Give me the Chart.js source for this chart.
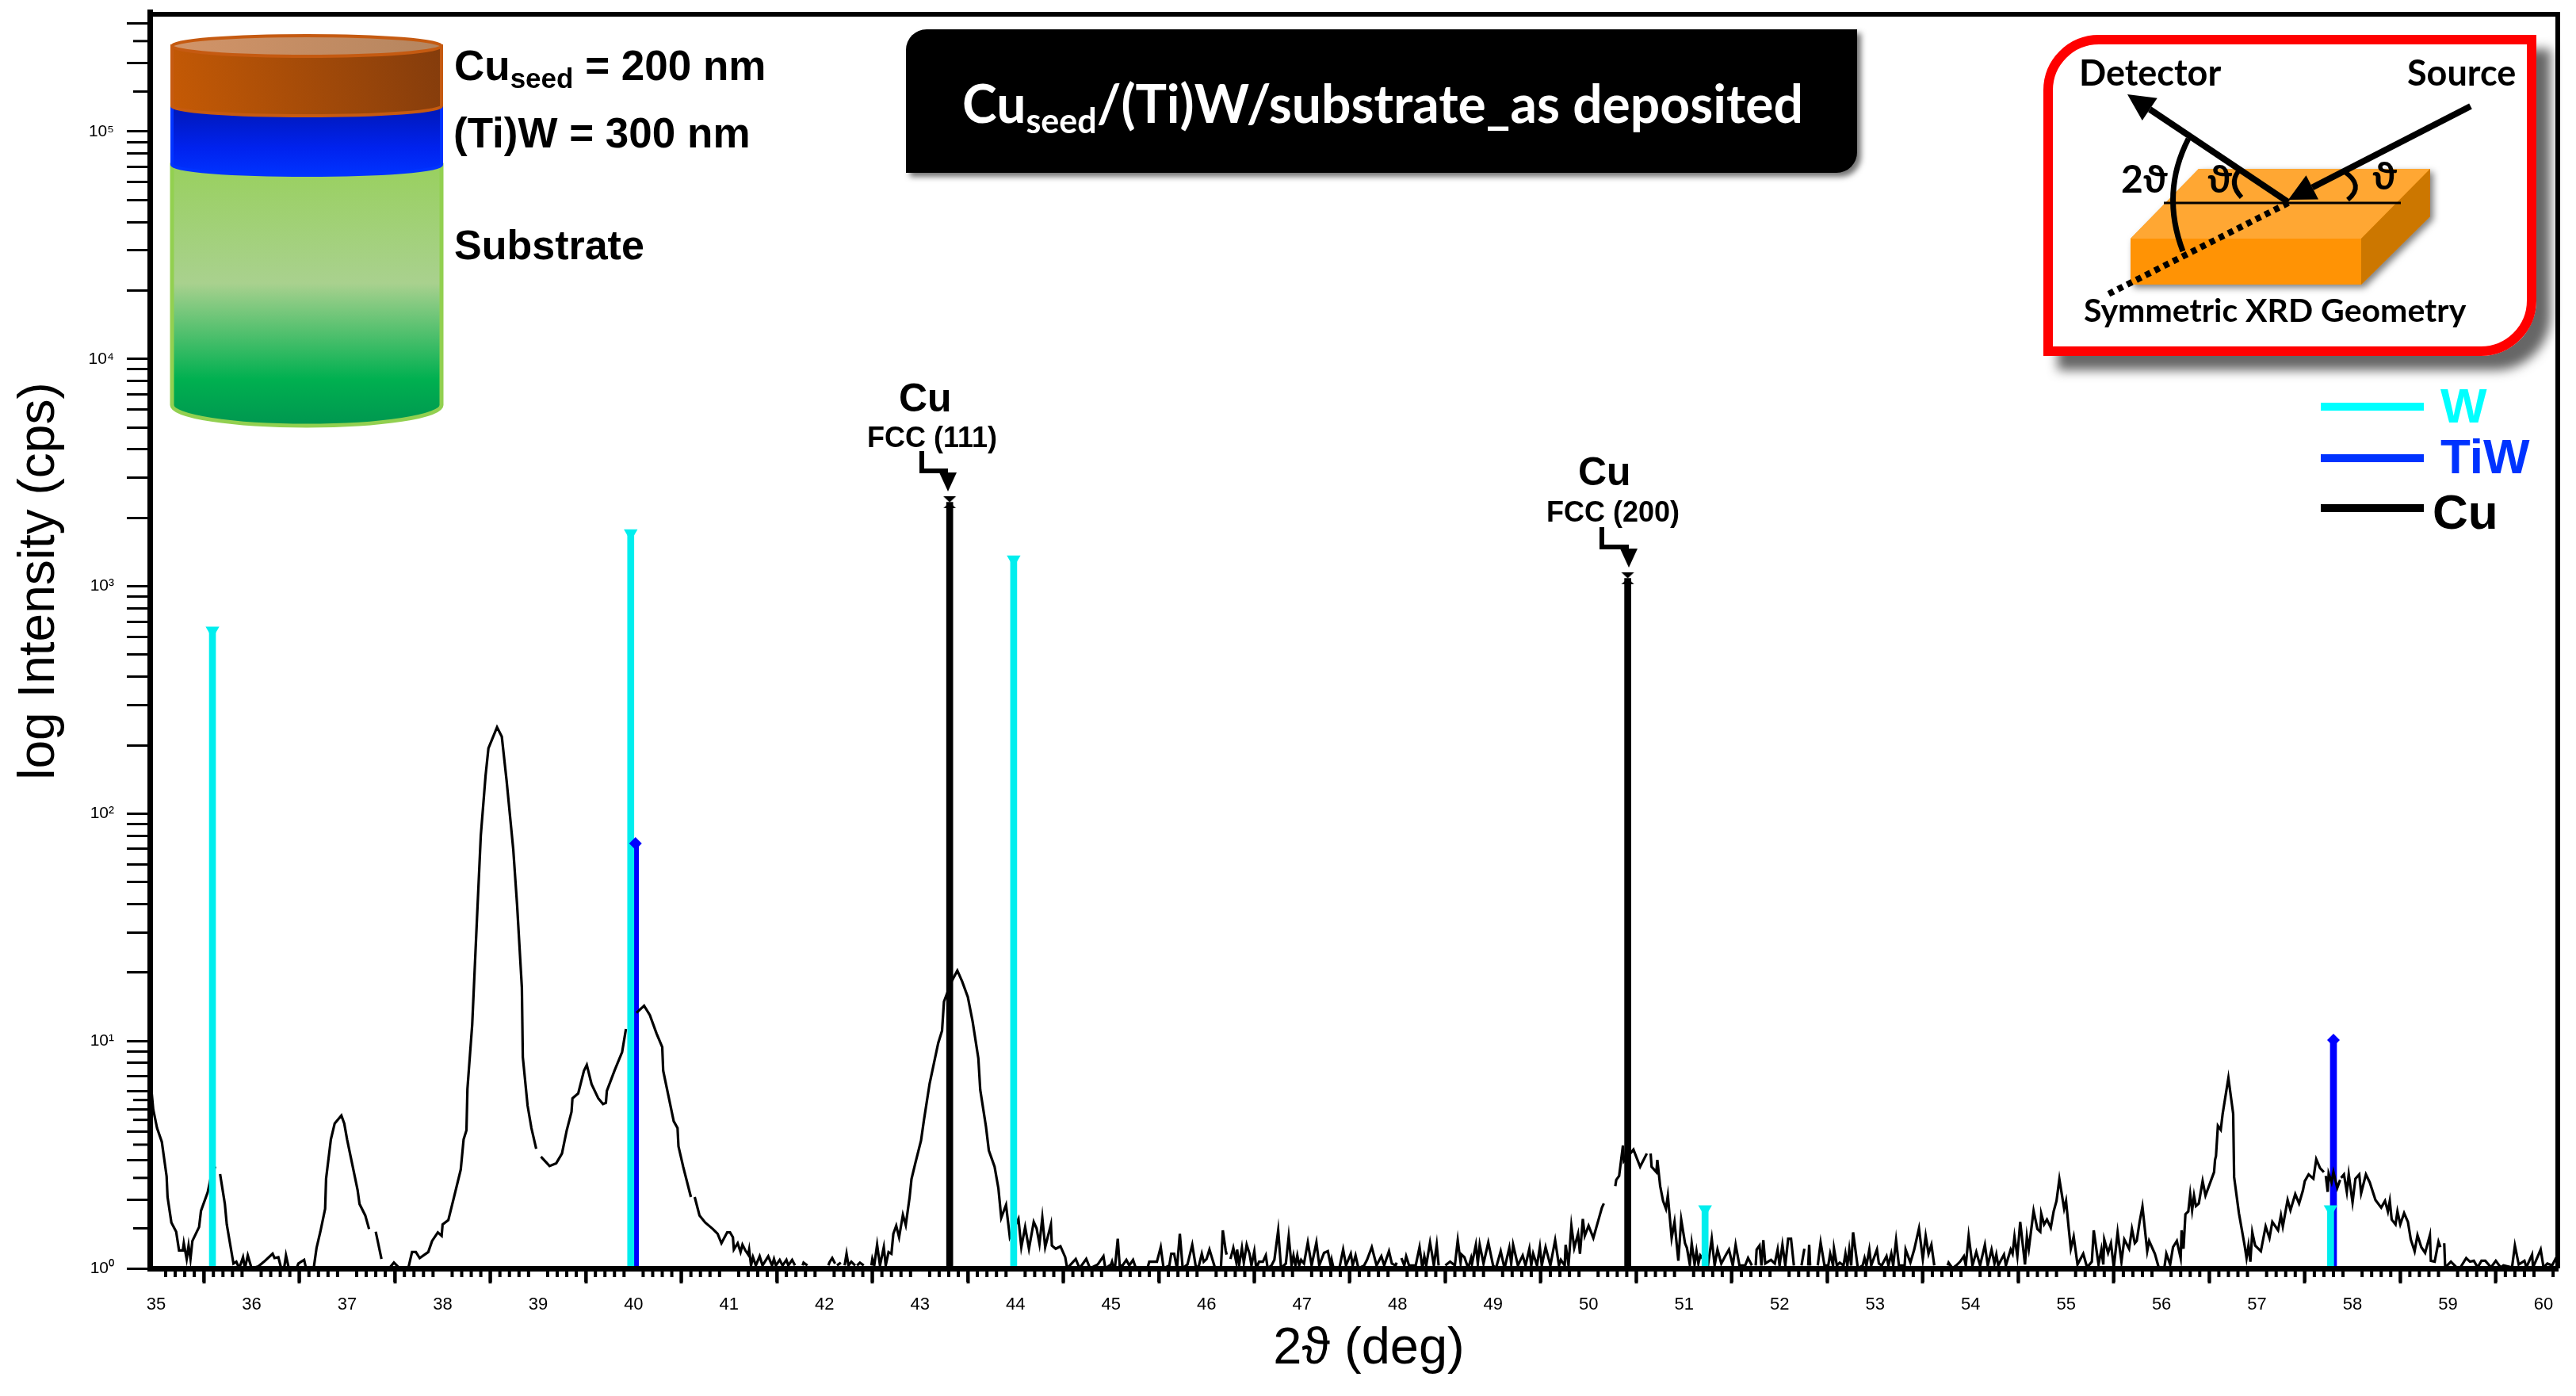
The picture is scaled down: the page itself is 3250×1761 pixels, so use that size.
<!DOCTYPE html>
<html>
<head>
<meta charset="utf-8">
<title>Cu seed XRD</title>
<script src="https://cdn.jsdelivr.net/npm/chart.js@4"></script>
<style>
  html, body { margin: 0; padding: 0; background: #fff; }
  canvas { display: block; }
</style>
</head>
<body>
<canvas id="myChart" width="3250" height="1761"></canvas>
<script>
// scan, [2theta, cps]; null = the trace breaks there
const scan35to41 = [[34.95,6.15],[34.97,5],[35.01,4.14],[35.06,3.6],[35.11,2.54],[35.12,2.06],[35.16,1.59],[35.21,1.45],[35.24,1.2],[35.28,1.2],[35.29,1.29],[35.32,1.1],[35.34,1.26],[35.36,1.1],[35.38,1.32],[35.45,1.52],[35.47,1.79],[35.54,2.16],[35.57,2.48],[35.62,2.81],[35.64,null],[35.67,2.6],[35.72,1.92],[35.74,1.56],[35.81,1.05],[35.84,1.07],[35.87,1],[35.91,1.12],[35.93,1],[35.96,1.14],[36,1],[36.07,1.02],[36.13,1.07],[36.22,1.16],[36.24,1.11],[36.28,1.12],[36.31,1],[36.33,null],[36.34,1],[36.36,1.14],[36.39,1],[36.4,null],[36.47,1],[36.49,1.05],[36.55,1.09],[36.57,1],[36.6,null],[36.65,1],[36.68,1.23],[36.72,1.45],[36.77,1.83],[36.78,2.48],[36.83,3.69],[36.87,4.34],[36.94,4.7],[36.97,4.34],[37,3.69],[37.04,3.06],[37.11,2.21],[37.13,1.92],[37.19,1.71],[37.23,1.49],[37.26,null],[37.3,1.45],[37.36,1.1],[37.38,null],[37.44,1],[37.49,1.06],[37.55,1],[37.64,1],[37.68,1.18],[37.72,1.18],[37.76,1.11],[37.85,1.18],[37.89,1.32],[37.95,1.44],[37.99,1.39],[38,1.56],[38.06,1.63],[38.12,2.06],[38.19,2.72],[38.22,3.69],[38.25,4.05],[38.26,6.15],[38.31,11.8],[38.36,34.5],[38.4,80],[38.45,147],[38.48,194],[38.57,240],[38.62,218],[38.67,140],[38.74,69.5],[38.78,39.7],[38.83,17.2],[38.84,8.5],[38.89,5.2],[38.93,4.14],[38.98,3.36],[39,null],[39.03,3.1],[39.12,2.82],[39.19,2.9],[39.25,3.2],[39.3,4.05],[39.35,4.88],[39.36,5.6],[39.42,5.88],[39.48,7.4],[39.51,7.85],[39.56,6.46],[39.63,5.6],[39.68,5.28],[39.71,5.35],[39.72,6.03],[39.8,7.4],[39.88,8.95],[39.92,11.3],[39.95,null],[40.03,13.3],[40.11,14.3],[40.17,13],[40.24,10.8],[40.3,9.4],[40.31,7.4],[40.37,5.6],[40.42,4.44],[40.46,4.14],[40.47,3.44],[40.52,2.79],[40.6,2.06],[40.62,null],[40.64,2.06],[40.69,1.71],[40.75,1.59],[40.83,1.49],[40.88,1.42],[40.92,1.29],[40.98,1.44]];
const scan41to45 = [[41.01,1.44],[41.04,1.37],[41.05,1.21],[41.09,1.29],[41.12,1.18],[41.14,1.27],[41.17,1.2],[41.2,1.15],[41.21,1.21],[41.23,1.03],[41.25,1.12],[41.28,1.03],[41.32,1.13],[41.35,1.03],[41.41,1.13],[41.45,1.03],[41.47,1.1],[41.49,1.03],[41.53,1.09],[41.56,1.03],[41.6,1.09],[41.62,1.03],[41.66,1.09],[41.69,1.03],[41.72,null],[41.77,1.03],[41.78,1.06],[41.82,1.03],[41.85,null],[42.04,1.03],[42.05,1.06],[42.08,1.11],[42.11,1.05],[42.12,null],[42.13,1.03],[42.17,1.06],[42.18,null],[42.21,1.03],[42.23,1.16],[42.25,1.03],[42.28,1.07],[42.32,1.03],[42.33,null],[42.34,1.03],[42.37,1.06],[42.41,1.03],[42.43,null],[42.49,1.03],[42.5,1.1],[42.52,1.03],[42.55,1.27],[42.58,1.03],[42.62,1.24],[42.64,1.03],[42.67,1.18],[42.7,1.16],[42.72,1.42],[42.75,1.54],[42.78,1.37],[42.82,1.72],[42.85,1.55],[42.89,2.05],[42.91,2.47],[42.95,2.9],[43.01,3.65],[43.04,4.48],[43.07,5.4],[43.1,6.5],[43.14,7.8],[43.19,9.8],[43.23,11.1],[43.25,14.9],[43.33,18.3],[43.39,20.4],[43.44,18.3],[43.5,15.6],[43.55,12.2],[43.61,8.4],[43.63,6.1],[43.69,4.2],[43.72,3.3],[43.78,2.8],[43.82,2.25],[43.85,1.67],[43.9,1.9],[43.94,1.37],[44.03,1.65],[44.06,1.24],[44.1,1.52],[44.14,1.22],[44.19,1.6],[44.22,1.5],[44.25,1.28],[44.28,1.67],[44.31,1.24],[44.37,1.56],[44.38,1.26],[44.42,1.22],[44.47,1.25],[44.52,1.12],[44.54,1],[44.63,1.1],[44.67,1],[44.74,1.1],[44.78,1],[44.86,1.04],[44.92,1.13],[44.94,1],[45,1.04]];
const scan45to48 = [[45.01,1.07],[45.02,1.03],[45.04,1],[45.07,1.35],[45.09,1.03],[45.12,1.03],[45.16,1.09],[45.19,1.03],[45.23,1.09],[45.26,1],[45.28,null],[45.38,1],[45.4,1.07],[45.44,1.07],[45.48,1.07],[45.52,1.24],[45.55,1],[45.61,1.03],[45.63,1.16],[45.66,1.16],[45.69,1],[45.72,1.42],[45.75,1],[45.8,1.04],[45.85,1.27],[45.89,1],[45.92,1.03],[45.95,1.16],[45.97,1.07],[46,1.1],[46.03,1.21],[46.09,1],[46.15,1],[46.17,1.47],[46.2,1.2],[46.21,1.15],[46.225,null],[46.25,1.1],[46.28,1.23],[46.31,1.07],[46.32,1.21],[46.34,1.03],[46.37,1.23],[46.39,1.06],[46.42,1.27],[46.45,1.16],[46.47,1.03],[46.5,1.19],[46.52,1],[46.55,1.07],[46.59,1.07],[46.62,1.14],[46.64,1],[46.68,1.03],[46.71,1.09],[46.75,1.47],[46.78,1],[46.83,1.05],[46.86,1.38],[46.89,1.03],[46.91,1.14],[46.93,1.03],[46.95,1.14],[46.97,1.03],[46.99,1.09],[47.02,1.05],[47.06,1.3],[47.1,1.03],[47.15,1.3],[47.18,1.03],[47.23,1.17],[47.27,1.19],[47.3,1.03],[47.31,1.09],[47.33,1],[47.39,1],[47.43,1.21],[47.46,1.03],[47.51,1.16],[47.53,1.03],[47.56,1.14],[47.59,1],[47.65,1.03],[47.68,1.09],[47.73,1.24],[47.78,1.03],[47.83,1.13],[47.86,1.03],[47.91,1.19],[47.94,1.05],[47.98,1.03],[47.99,1.06],[48,null]];
const scan48to51 = [[48.04,1.11],[48.07,1.03],[48.09,1.13],[48.12,1.03],[48.19,1.03],[48.23,1.24],[48.26,1],[48.28,1.13],[48.3,1.03],[48.34,1.3],[48.36,1.16],[48.38,1.03],[48.41,1.27],[48.43,1.03],[48.45,null],[48.5,1.03],[48.55,1.07],[48.6,1.03],[48.63,1.33],[48.66,1.06],[48.67,1.15],[48.7,1.12],[48.74,1],[48.77,1.11],[48.78,1.05],[48.82,1.27],[48.84,1.05],[48.86,1.27],[48.9,1.05],[48.95,1.3],[49,1.03],[49.03,1],[49.08,1.19],[49.12,1],[49.17,1.23],[49.19,1.05],[49.21,1.27],[49.26,1.03],[49.31,1.14],[49.34,1.03],[49.38,1.22],[49.4,1.03],[49.42,1.16],[49.46,1.03],[49.49,1.24],[49.51,1.03],[49.55,1.24],[49.6,1.03],[49.65,1.33],[49.69,1.03],[49.71,1.09],[49.75,1.03],[49.76,1.27],[49.79,1.03],[49.82,1.54],[49.85,1.23],[49.89,1.42],[49.91,1.16],[49.94,1.65],[49.96,1.39],[50,1.54],[50.05,1.36],[50.09,1.56],[50.14,1.85],[50.16,1.93],[50.18,null],[50.22,2.2],[50.25,null],[50.28,2.3],[50.29,2.45],[50.32,2.55],[50.36,3.47],[50.37,2.96],[50.47,3.33],[50.54,2.8],[50.61,3.2],[50.63,null],[50.65,3.2],[50.66,2.8],[50.71,2.65],[50.72,3],[50.75,2.3],[50.78,1.98],[50.81,1.83],[50.83,2.09],[50.87,1.36],[50.9,1.6],[50.94,1.08],[50.97,1.64],[51.01,1.29],[51.03,1.23],[51.06,1.04],[51.08,1.29],[51.11,1.04],[51.13,1.19],[51.15,1.05],[51.17,1.14]];
const scan51to54 = [[51.25,1.03],[51.29,1.35],[51.32,1.03],[51.35,1.21],[51.39,1.05],[51.43,1.13],[51.47,1.21],[51.51,1.03],[51.54,1.27],[51.58,1.03],[51.64,1.03],[51.67,1.11],[51.71,1.03],[51.72,null],[51.75,1.03],[51.76,1.21],[51.79,1.26],[51.81,1.03],[51.83,1.33],[51.85,1.05],[51.91,1.09],[51.95,1.05],[51.98,1.21],[52,1.03],[52.03,1.27],[52.06,1.03],[52.09,1.35],[52.12,1.35],[52.15,1.03],[52.17,null],[52.23,1.03],[52.26,1.22],[52.27,null],[52.3,1.03],[52.31,1.27],[52.32,1.03],[52.33,null],[52.4,1.03],[52.43,1.3],[52.47,1.03],[52.51,1.03],[52.53,1.16],[52.56,1.03],[52.57,1.22],[52.6,1.03],[52.63,1.06],[52.67,1.03],[52.69,1.16],[52.71,1.03],[52.73,1.21],[52.75,1.03],[52.77,1.44],[52.82,1],[52.87,1.03],[52.89,1.11],[52.91,1.03],[52.94,1.21],[52.96,1.03],[53.02,1.21],[53.04,1.05],[53.07,1.03],[53.12,1.13],[53.14,1.03],[53.17,1.16],[53.19,1.03],[53.22,1.33],[53.25,1.03],[53.31,1.03],[53.32,1.21],[53.37,1.06],[53.41,1.21],[53.46,1.5],[53.5,1.1],[53.53,1.39],[53.56,1.16],[53.59,1.27],[53.62,1.03],[53.64,null],[53.76,1.03],[53.77,1.06],[53.81,1],[53.85,1.03],[53.89,1.07],[53.93,1.13],[53.95,1.03],[53.98,1.39]];
const scan54to57 = [[54.02,1.03],[54.06,1.18],[54.1,1.03],[54.15,1.27],[54.18,1.03],[54.22,1.21],[54.25,1.05],[54.27,1.15],[54.29,1.03],[54.35,1.15],[54.37,1.03],[54.42,1.21],[54.44,1.16],[54.46,1.38],[54.49,1.13],[54.52,1.6],[54.57,1.04],[54.59,1.38],[54.61,1.22],[54.66,1.79],[54.7,1.49],[54.73,1.45],[54.74,1.74],[54.77,1.56],[54.8,1.64],[54.84,1.51],[54.87,1.78],[54.9,1.98],[54.93,2.47],[54.98,1.83],[55,1.98],[55.03,1.47],[55.05,1.22],[55.08,1.38],[55.12,1.04],[55.18,1.16],[55.22,1.01],[55.27,1.07],[55.29,1.47],[55.34,1.04],[55.37,1.21],[55.39,1.04],[55.4,1.34],[55.44,1.17],[55.47,1.29],[55.5,1.01],[55.54,1.44],[55.58,1.07],[55.61,1.34],[55.66,1.22],[55.69,1.49],[55.72,1.29],[55.74,1.32],[55.77,1.6],[55.8,1.87],[55.85,1.19],[55.87,1.32],[55.91,1.21],[55.93,1.16],[55.97,1.01],[56.03,1.01],[56.05,1.16],[56.09,1.04],[56.12,1.24],[56.16,1.32],[56.2,1.11],[56.21,1.47],[56.23,1.22],[56.25,1.73],[56.28,1.78],[56.3,2.12],[56.32,1.8],[56.34,2.09],[56.36,1.88],[56.39,1.93],[56.43,2.42],[56.46,2.09],[56.52,2.45],[56.55,2.65],[56.56,3],[56.57,3.12],[56.59,4.24],[56.62,4.07],[56.64,4.79],[56.7,6.88],[56.75,4.79],[56.76,2.52],[56.81,1.75],[56.87,1.26],[56.89,1.11],[56.91,1.26],[56.93,1.07],[56.95,1.44],[56.98,1.26]];
const scan57to60 = [[57.04,1.19],[57.09,1.53],[57.13,1.36],[57.16,1.6],[57.22,1.47],[57.25,1.71],[57.27,1.53],[57.32,2],[57.35,1.8],[57.4,2.12],[57.44,1.93],[57.48,2.2],[57.5,2.42],[57.54,2.59],[57.59,2.48],[57.62,3.02],[57.66,2.76],[57.7,2.65],[57.71,null],[57.72,2.55],[57.74,2.17],[57.75,2.61],[57.78,2.39],[57.8,2.65],[57.84,2.26],[57.87,2.45],[57.875,null],[57.88,2.5],[57.91,2.59],[57.94,2.17],[57.96,2.59],[58,1.95],[58.03,2.48],[58.07,2.59],[58.09,2.14],[58.14,2.59],[58.18,2.39],[58.24,2],[58.3,1.85],[58.34,1.98],[58.37,1.78],[58.39,1.98],[58.41,1.64],[58.45,1.56],[58.47,1.78],[58.5,1.56],[58.54,1.75],[58.58,1.6],[58.61,1.34],[58.65,1.19],[58.68,1.4],[58.72,1.24],[58.76,1.17],[58.81,1.4],[58.82,1.08],[58.86,1.07],[58.9,1.31],[58.92,1.24],[58.94,null],[58.96,1.29],[58.97,1.01],[59.03,1.07],[59.09,1.01],[59.13,1.01],[59.19,1.11],[59.23,1.07],[59.27,1.08],[59.31,1.01],[59.35,1.08],[59.39,1.08],[59.45,1.01],[59.5,1.08],[59.55,1.01],[59.58,1.03],[59.67,1.01],[59.7,1.26],[59.74,1.04],[59.8,1.08],[59.82,1.01],[59.88,1.15],[59.89,1.01],[59.97,1.21],[60,1.01],[60.04,1.05],[60.09,1.03],[60.13,1.11],[60.15,1.13]];

// reference peaks, position and height
const wDeg = [35.59, 39.97, 43.98, 51.22, 57.77];
const wCps = [638, 1710, 1313, 1.82, 1.82];
const tiwDeg = [40.02, 57.8];
const tiwCps = [74, 10.1];
const cuDeg = [43.31, 50.41];
const cuCps = [2340, 1084];

const xTicks = [35,36,37,38,39,40,41,42,43,44,45,46,47,48,49,50,51,52,53,54,55,56,57,58,59,60];
const yTicks = [1,2,3,4,5,6,7,8,9,10,20,30,40,50,60,70,80,90,100,200,300,400,500,600,700,800,900,1000,2000,3000,4000,5000,6000,7000,8000,9000,10000,20000,30000,40000,50000,60000,70000,80000,90000,100000,200000,300000];
const yShortTicks = [1.5,2.5,3.5,4.5,5.5,150000,250000];
const yLabels = {1:'10⁰',10:'10¹',100:'10²',1000:'10³',10000:'10⁴',100000:'10⁵'};

const xTitle = '2ϑ (deg)';
const yTitle = 'log Intensity (cps)';

function pairs(xs, ys) {
    return xs.map(function (x, i) { return {x: x, y: ys[i]}; });
}

function hourglass() {
    const c = document.createElement('canvas');
    c.width = 18; c.height = 15;
    const g = c.getContext('2d');
    g.fillStyle = '#000';
    g.beginPath();
    g.moveTo(1, 0); g.lineTo(17, 0); g.lineTo(1, 15); g.lineTo(17, 15);
    g.closePath();
    g.fill();
    return c;
}

const scan = [].concat(scan35to41, scan41to45, scan45to48, scan48to51, scan51to54, scan54to57, scan57to60)
    .map(function (p) { return {x: p[0], y: p[1]}; });

function text(ctx, str, x, y, font, color) {
    ctx.font = font;
    ctx.fillStyle = color || '#000';
    ctx.fillText(str, x, y);
}

function withSub(ctx, parts, x, y, font, subFont, subDrop, color) {
    // parts: normal, subscript, normal
    text(ctx, parts[0], x, y, font, color);
    x += ctx.measureText(parts[0]).width;
    text(ctx, parts[1], x, y + subDrop, subFont, color);
    x += ctx.measureText(parts[1]).width;
    text(ctx, parts[2], x, y, font, color);
}

function poly(ctx, pts, fill) {
    ctx.beginPath();
    pts.forEach(function (p, i) { i ? ctx.lineTo(p[0], p[1]) : ctx.moveTo(p[0], p[1]); });
    ctx.closePath();
    ctx.fillStyle = fill;
    ctx.fill();
}

function arrow(ctx, x0, y0, x1, y1, width, len, half) {
    const a = Math.atan2(y1 - y0, x1 - x0);
    const bx = x1 - Math.cos(a) * len, by = y1 - Math.sin(a) * len;
    ctx.strokeStyle = '#000';
    ctx.lineWidth = width;
    ctx.beginPath(); ctx.moveTo(x0, y0); ctx.lineTo(bx, by); ctx.stroke();
    poly(ctx, [[x1, y1], [bx - Math.sin(a) * half, by + Math.cos(a) * half], [bx + Math.sin(a) * half, by - Math.cos(a) * half]], '#000');
}

function drawCylinder(ctx) {
    const l = 217, r = 557, cx = 387, rx = 170;
    // substrate
    let g = ctx.createLinearGradient(0, 209, 0, 538);
    g.addColorStop(0, '#99d05f');
    g.addColorStop(0.45, '#a9d18e');
    g.addColorStop(0.82, '#00b050');
    g.addColorStop(1, '#009650');
    ctx.beginPath();
    ctx.moveTo(l, 208); ctx.lineTo(l, 511);
    ctx.ellipse(cx, 511, rx, 26, 0, Math.PI, 0, true);
    ctx.lineTo(r, 208);
    ctx.closePath();
    ctx.fillStyle = g; ctx.fill();
    ctx.strokeStyle = '#92d050'; ctx.lineWidth = 5; ctx.stroke();
    // (Ti)W
    g = ctx.createLinearGradient(0, 135, 0, 221);
    g.addColorStop(0, '#0018b8');
    g.addColorStop(0.6, '#0022ee');
    g.addColorStop(1, '#0033ff');
    ctx.beginPath();
    ctx.moveTo(l, 134); ctx.lineTo(l, 208);
    ctx.ellipse(cx, 208, rx, 13, 0, Math.PI, 0, true);
    ctx.lineTo(r, 134);
    ctx.closePath();
    ctx.fillStyle = g; ctx.fill();
    ctx.strokeStyle = '#0033ff'; ctx.lineWidth = 4; ctx.stroke();
    // Cu
    g = ctx.createLinearGradient(l, 140, r, 58);
    g.addColorStop(0, '#c55a05');
    g.addColorStop(1, '#843c0c');
    ctx.beginPath();
    ctx.moveTo(l, 58); ctx.lineTo(l, 134);
    ctx.ellipse(cx, 134, rx, 12, 0, Math.PI, 0, true);
    ctx.lineTo(r, 58);
    ctx.closePath();
    ctx.fillStyle = g; ctx.fill();
    ctx.strokeStyle = '#c55a11'; ctx.lineWidth = 4; ctx.stroke();
    g = ctx.createLinearGradient(l, 0, r, 0);
    g.addColorStop(0, '#d29468');
    g.addColorStop(1, '#b5855f');
    ctx.beginPath();
    ctx.ellipse(cx, 58, rx, 13, 0, 0, Math.PI * 2);
    ctx.fillStyle = g; ctx.fill();
    ctx.strokeStyle = '#c55a11'; ctx.lineWidth = 4; ctx.stroke();

    const bold = 'bold 53px "Liberation Sans"';
    withSub(ctx, ['Cu', 'seed', ' = 200 nm'], 573, 101, bold, 'bold 35px "Liberation Sans"', 10);
    text(ctx, '(Ti)W = 300 nm', 572, 186, bold);
    text(ctx, 'Substrate', 573, 327, 'bold 52px "Liberation Sans"');
}

function drawTitleBox(ctx) {
    ctx.save();
    ctx.shadowColor = 'rgba(0,0,0,0.55)';
    ctx.shadowBlur = 7;
    ctx.shadowOffsetX = 5;
    ctx.shadowOffsetY = 5;
    ctx.beginPath();
    ctx.roundRect(1143, 37, 1200, 181, [26, 0, 26, 0]);
    ctx.fillStyle = '#000';
    ctx.fill();
    ctx.restore();
    withSub(ctx, ['Cu', 'seed', '/(Ti)W/substrate_as deposited'], 1214, 155,
        'bold 66px Lato', 'bold 43px Lato', 13, '#fff');
}

function drawInset(ctx) {
    ctx.save();
    ctx.shadowColor = 'rgba(0,0,0,0.6)';
    ctx.shadowBlur = 14;
    ctx.shadowOffsetX = 18;
    ctx.shadowOffsetY = 18;
    ctx.beginPath();
    ctx.roundRect(2578, 44, 622, 405, [70, 0, 70, 0]);
    ctx.fillStyle = '#fff';
    ctx.fill();
    ctx.restore();
    ctx.beginPath();
    ctx.roundRect(2584, 50, 610, 393, [64, 0, 64, 0]);
    ctx.strokeStyle = '#ff0000';
    ctx.lineWidth = 12;
    ctx.stroke();

    // substrate block
    ctx.save();
    ctx.shadowColor = 'rgba(0,0,0,0.5)';
    ctx.shadowBlur = 8;
    ctx.shadowOffsetX = 4;
    ctx.shadowOffsetY = 4;
    poly(ctx, [[2688, 301], [2774, 213], [3066, 213], [3066, 273], [2979, 359], [2688, 359]], '#ff9305');
    ctx.restore();
    poly(ctx, [[2688, 301], [2774, 213], [3066, 213], [2979, 301]], '#ffa733');
    poly(ctx, [[2979, 301], [3066, 213], [3066, 273], [2979, 359]], '#cc7700');

    ctx.strokeStyle = '#000';
    ctx.lineWidth = 3;
    ctx.beginPath(); ctx.moveTo(2730, 256); ctx.lineTo(3029, 256); ctx.stroke();

    ctx.lineWidth = 8;
    ctx.setLineDash([7, 6]);
    ctx.beginPath(); ctx.moveTo(2887, 256); ctx.lineTo(2658, 372); ctx.stroke();
    ctx.setLineDash([]);

    arrow(ctx, 2887, 255, 2684, 119, 8, 34, 17);
    arrow(ctx, 3117, 134, 2887, 252, 8, 34, 17);

    ctx.lineWidth = 7;
    ctx.beginPath(); ctx.moveTo(2761, 175); ctx.quadraticCurveTo(2726, 243, 2754, 317); ctx.stroke();
    ctx.lineWidth = 6;
    ctx.beginPath(); ctx.moveTo(2824, 216); ctx.quadraticCurveTo(2812, 232, 2828, 249); ctx.stroke();
    ctx.beginPath(); ctx.moveTo(2957, 216); ctx.quadraticCurveTo(2984, 234, 2962, 252); ctx.stroke();

    const big = 'bold 45px Lato, "DejaVu Sans"';
    text(ctx, 'Detector', 2623, 108, big);
    text(ctx, 'Source', 3037, 108, big);
    text(ctx, '2ϑ', 2676, 243, 'bold 48px Lato, "DejaVu Sans"');
    text(ctx, 'ϑ', 2785, 243, 'bold 48px Lato, "DejaVu Sans"');
    text(ctx, 'ϑ', 2993, 239, 'bold 48px Lato, "DejaVu Sans"');
    text(ctx, 'Symmetric XRD Geometry', 2629, 406, 'bold 41px Lato');
}

function drawKey(ctx) {
    ctx.fillStyle = '#00ffff'; ctx.fillRect(2928, 508, 130, 10);
    ctx.fillStyle = '#0033ff'; ctx.fillRect(2928, 573, 130, 10);
    ctx.fillStyle = '#000000'; ctx.fillRect(2928, 636, 130, 10);
    const f = 'bold 62px "Liberation Sans"';
    text(ctx, 'W', 3079, 533, f, '#00ffff');
    text(ctx, 'TiW', 3079, 597, f, '#0033ff');
    text(ctx, 'Cu', 3069, 667, f, '#000');
}

function drawPeakNote(ctx, cuX, cuY, fccX, fccY, fcc, bendX, bendTop, tipX) {
    text(ctx, 'Cu', cuX, cuY, 'bold 50px "Liberation Sans"');
    text(ctx, fcc, fccX, fccY, 'bold 36px "Liberation Sans"');
    ctx.strokeStyle = '#000';
    ctx.lineWidth = 6;
    ctx.beginPath();
    ctx.moveTo(bendX, bendTop);
    ctx.lineTo(bendX, bendTop + 25);
    ctx.lineTo(tipX, bendTop + 25);
    ctx.stroke();
    poly(ctx, [[tipX - 11, bendTop + 27], [tipX + 11, bendTop + 27], [tipX, bendTop + 51]], '#000');
}

const overlay = {
    id: 'overlay',
    afterDatasetsDraw: function (chart) {
        const ctx = chart.ctx;
        const a = chart.chartArea;
        const x = chart.scales.x;
        const y = chart.scales.y;
        ctx.save();
        ctx.strokeStyle = '#000';

        // top and right of the frame
        ctx.lineWidth = 6;
        ctx.beginPath();
        ctx.moveTo(a.left - 3, a.top + 3);
        ctx.lineTo(a.right, a.top + 3);
        ctx.lineTo(a.right, a.bottom);
        ctx.stroke();

        // short ticks the scales can't do themselves
        ctx.lineWidth = 3;
        yShortTicks.forEach(function (v) {
            const p = y.getPixelForValue(v);
            ctx.beginPath(); ctx.moveTo(a.left - 21, p); ctx.lineTo(a.left, p); ctx.stroke();
        });
        ctx.lineWidth = 4;
        for (let i = 0; i <= 251; i++) {
            if (i % 10 === 0) continue;
            const p = x.getPixelForValue(35 + i / 10);
            ctx.beginPath();
            ctx.moveTo(p, a.bottom);
            ctx.lineTo(p, a.bottom + (i % 5 === 0 ? 17 : 11));
            ctx.stroke();
        }

        // axis titles
        ctx.textAlign = 'center';
        ctx.textBaseline = 'alphabetic';
        text(ctx, xTitle, 1727, 1720, '65px "Liberation Sans"');
        ctx.save();
        ctx.translate(68, 733);
        ctx.rotate(-Math.PI / 2);
        text(ctx, yTitle, 0, 0, '64px "Liberation Sans"');
        ctx.restore();
        ctx.textAlign = 'left';

        drawCylinder(ctx);
        drawTitleBox(ctx);
        drawInset(ctx);
        drawKey(ctx);
        drawPeakNote(ctx, 1134, 519, 1094, 564, 'FCC (111)', 1163, 569, 1196);
        drawPeakNote(ctx, 1991, 612, 1951, 658, 'FCC (200)', 2021, 665, 2055);
        ctx.restore();
    }
};

new Chart(document.getElementById('myChart').getContext('2d'), {
    data: {
        datasets: [
            {type: 'bar', label: 'TiW', data: pairs(tiwDeg, tiwCps), backgroundColor: '#0000ff', barThickness: 8, grouped: false, order: 5},
            {type: 'line', label: 'scan', data: scan, borderColor: '#000', borderWidth: 3.2, pointRadius: 0, tension: 0, spanGaps: false, order: 4},
            {type: 'bar', label: 'W', data: pairs(wDeg, wCps), backgroundColor: '#00eeee', barThickness: 8, grouped: false, order: 3},
            {type: 'bar', label: 'Cu', data: pairs(cuDeg, cuCps), backgroundColor: '#000', barThickness: 8, grouped: false, order: 2},
            {type: 'scatter', label: 'TiW top', data: pairs(tiwDeg, tiwCps), pointStyle: 'rectRot', pointRadius: 8, backgroundColor: '#0000ff', borderWidth: 0, order: 1},
            {type: 'scatter', label: 'W top', data: pairs(wDeg, wCps), pointStyle: 'triangle', rotation: 180, pointRadius: 10, backgroundColor: '#00eeee', borderWidth: 0, order: 1},
            {type: 'scatter', label: 'Cu top', data: pairs(cuDeg, cuCps), pointStyle: hourglass(), backgroundColor: '#000', order: 1}
        ]
    },
    options: {
        responsive: false,
        devicePixelRatio: 1,
        animation: false,
        events: [],
        layout: {padding: {left: 0, right: 23, top: 15, bottom: 0}},
        plugins: {legend: {display: false}, tooltip: {enabled: false}},
        scales: {
            x: {
                type: 'linear',
                offset: false,
                min: 34.934,
                max: 60.149,
                afterBuildTicks: function (s) {
                    s.ticks = xTicks.map(function (v) { return {value: v}; });
                },
                afterFit: function (s) {
                    s.height = 161;
                    s.paddingLeft = 0; s.paddingRight = 0;
                },
                border: {display: true, color: '#000', width: 7, z: 1},
                grid: {drawOnChartArea: false, drawTicks: true, tickLength: 19, tickWidth: 4, tickColor: '#000'},
                ticks: {
                    autoSkip: false, maxRotation: 0, padding: 14, color: '#000',
                    font: {family: '"Liberation Sans"', size: 22},
                    callback: function (v) { return String(v); }
                }
            },
            y: {
                type: 'logarithmic',
                min: 1,
                max: 336000,
                afterBuildTicks: function (s) {
                    s.ticks = yTicks.map(function (v) { return {value: v}; });
                },
                afterFit: function (s) {
                    s.width = 189;
                    s.paddingTop = 0; s.paddingBottom = 0;
                },
                border: {display: true, color: '#000', width: 7, z: 1},
                grid: {drawOnChartArea: false, drawTicks: true, tickLength: 29, tickWidth: 3, tickColor: '#000'},
                ticks: {
                    autoSkip: false, padding: 16, color: '#000',
                    font: {family: '"Liberation Sans"', size: 21},
                    callback: function (v) { return yLabels[v] || ''; }
                }
            }
        }
    },
    plugins: [overlay]
});
</script>
</body>
</html>
